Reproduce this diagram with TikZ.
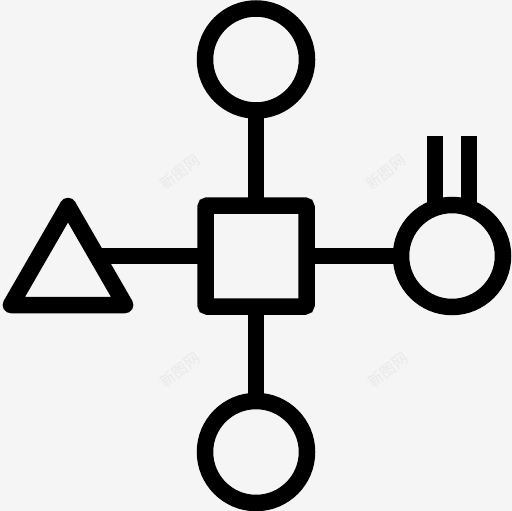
\documentclass[tikz,border=0pt]{standalone}
\usepackage{fontspec}
\newfontfamily\cjk{Noto Sans CJK SC}
\usetikzlibrary{shapes.geometric}
\definecolor{bg}{RGB}{245,245,245}
\definecolor{wm}{RGB}{233,233,233}
\tikzset{
  ln/.style={line width=16.5pt, draw=black},
  ring/.style={circle, ln, fill=bg, minimum size=102pt, inner sep=0pt},
  sqbox/.style={rectangle, ln, fill=bg, minimum size=101pt, inner sep=0pt, rounded corners=2pt},
  tribox/.style={regular polygon, regular polygon sides=3, ln, fill=bg, minimum size=132pt, inner sep=0pt, line join=round},
  prong/.style={ln, line cap=butt},
  mark wm/.style={text=wm, font=\cjk\fontsize{15}{15}\selectfont, rotate=38, inner sep=0pt}
}
\begin{document}
\begin{tikzpicture}[x=1pt,y=-1pt]
\fill[bg] (0,0) rectangle (512,511);
\useasboundingbox (0,0) rectangle (512,511);
% watermarks
\node[mark wm] (w1) at (180,172) {新图网};
\node[mark wm] (w2) at (386,172) {新图网};
\node[mark wm] (w3) at (180,370) {新图网};
\node[mark wm] (w4) at (388,370) {新图网};
% positions
\coordinate (csq) at (256,256);
\coordinate (ctop) at (256,59.5);
\coordinate (cbot) at (256,452);
\coordinate (cright) at (452,256);
\coordinate (ctri) at (68,272);
\coordinate (p1top) at (435,136);
\coordinate (p2top) at (469,136);
% connectors (drawn first, nodes are filled over them)
\draw[ln] (ctop) -- (cbot);
\draw[ln] (csq -| ctri) -- (cright);
\draw[prong] (p1top) -- (p1top |- cright);
\draw[prong] (p2top) -- (p2top |- cright);
% nodes
\node[ring] (top) at (ctop) {};
\node[ring] (bot) at (cbot) {};
\node[ring] (right) at (cright) {};
\node[sqbox] (sq) at (csq) {};
\node[tribox] (tri) at (ctri) {};
\end{tikzpicture}
\end{document}
